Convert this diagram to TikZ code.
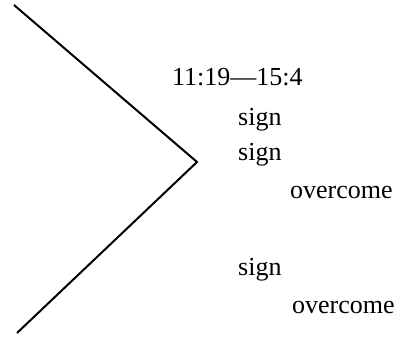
\documentclass[tikz,border=0pt]{standalone}
\usepackage{fontspec}
\setmainfont{Liberation Serif}
\usepackage{tikz}
\tikzset{
  lbl/.style    ={anchor=base west,inner sep=0pt,font=\fontsize{26}{31}\selectfont},
  chevron/.style={line width=2pt,line join=miter},
}
\begin{document}
\begin{tikzpicture}[x=1pt,y=-1pt]
  \useasboundingbox (0,0) rectangle (401,337);
  \coordinate (top)    at (14,5);
  \coordinate (apex)   at (197,162);
  \coordinate (bottom) at (17,333);
  \draw[chevron] (top)--(apex)--(bottom);
  \node[lbl] (range) at (172,85)  {11:19—15:4};
  \node[lbl] (sign1) at (238,125) {sign};
  \node[lbl] (sign2) at (238,160) {sign};
  \node[lbl] (over1) at (290,198) {overcome};
  \node[lbl] (sign3) at (238,275) {sign};
  \node[lbl] (over2) at (292,313) {overcome};
\end{tikzpicture}
\end{document}
